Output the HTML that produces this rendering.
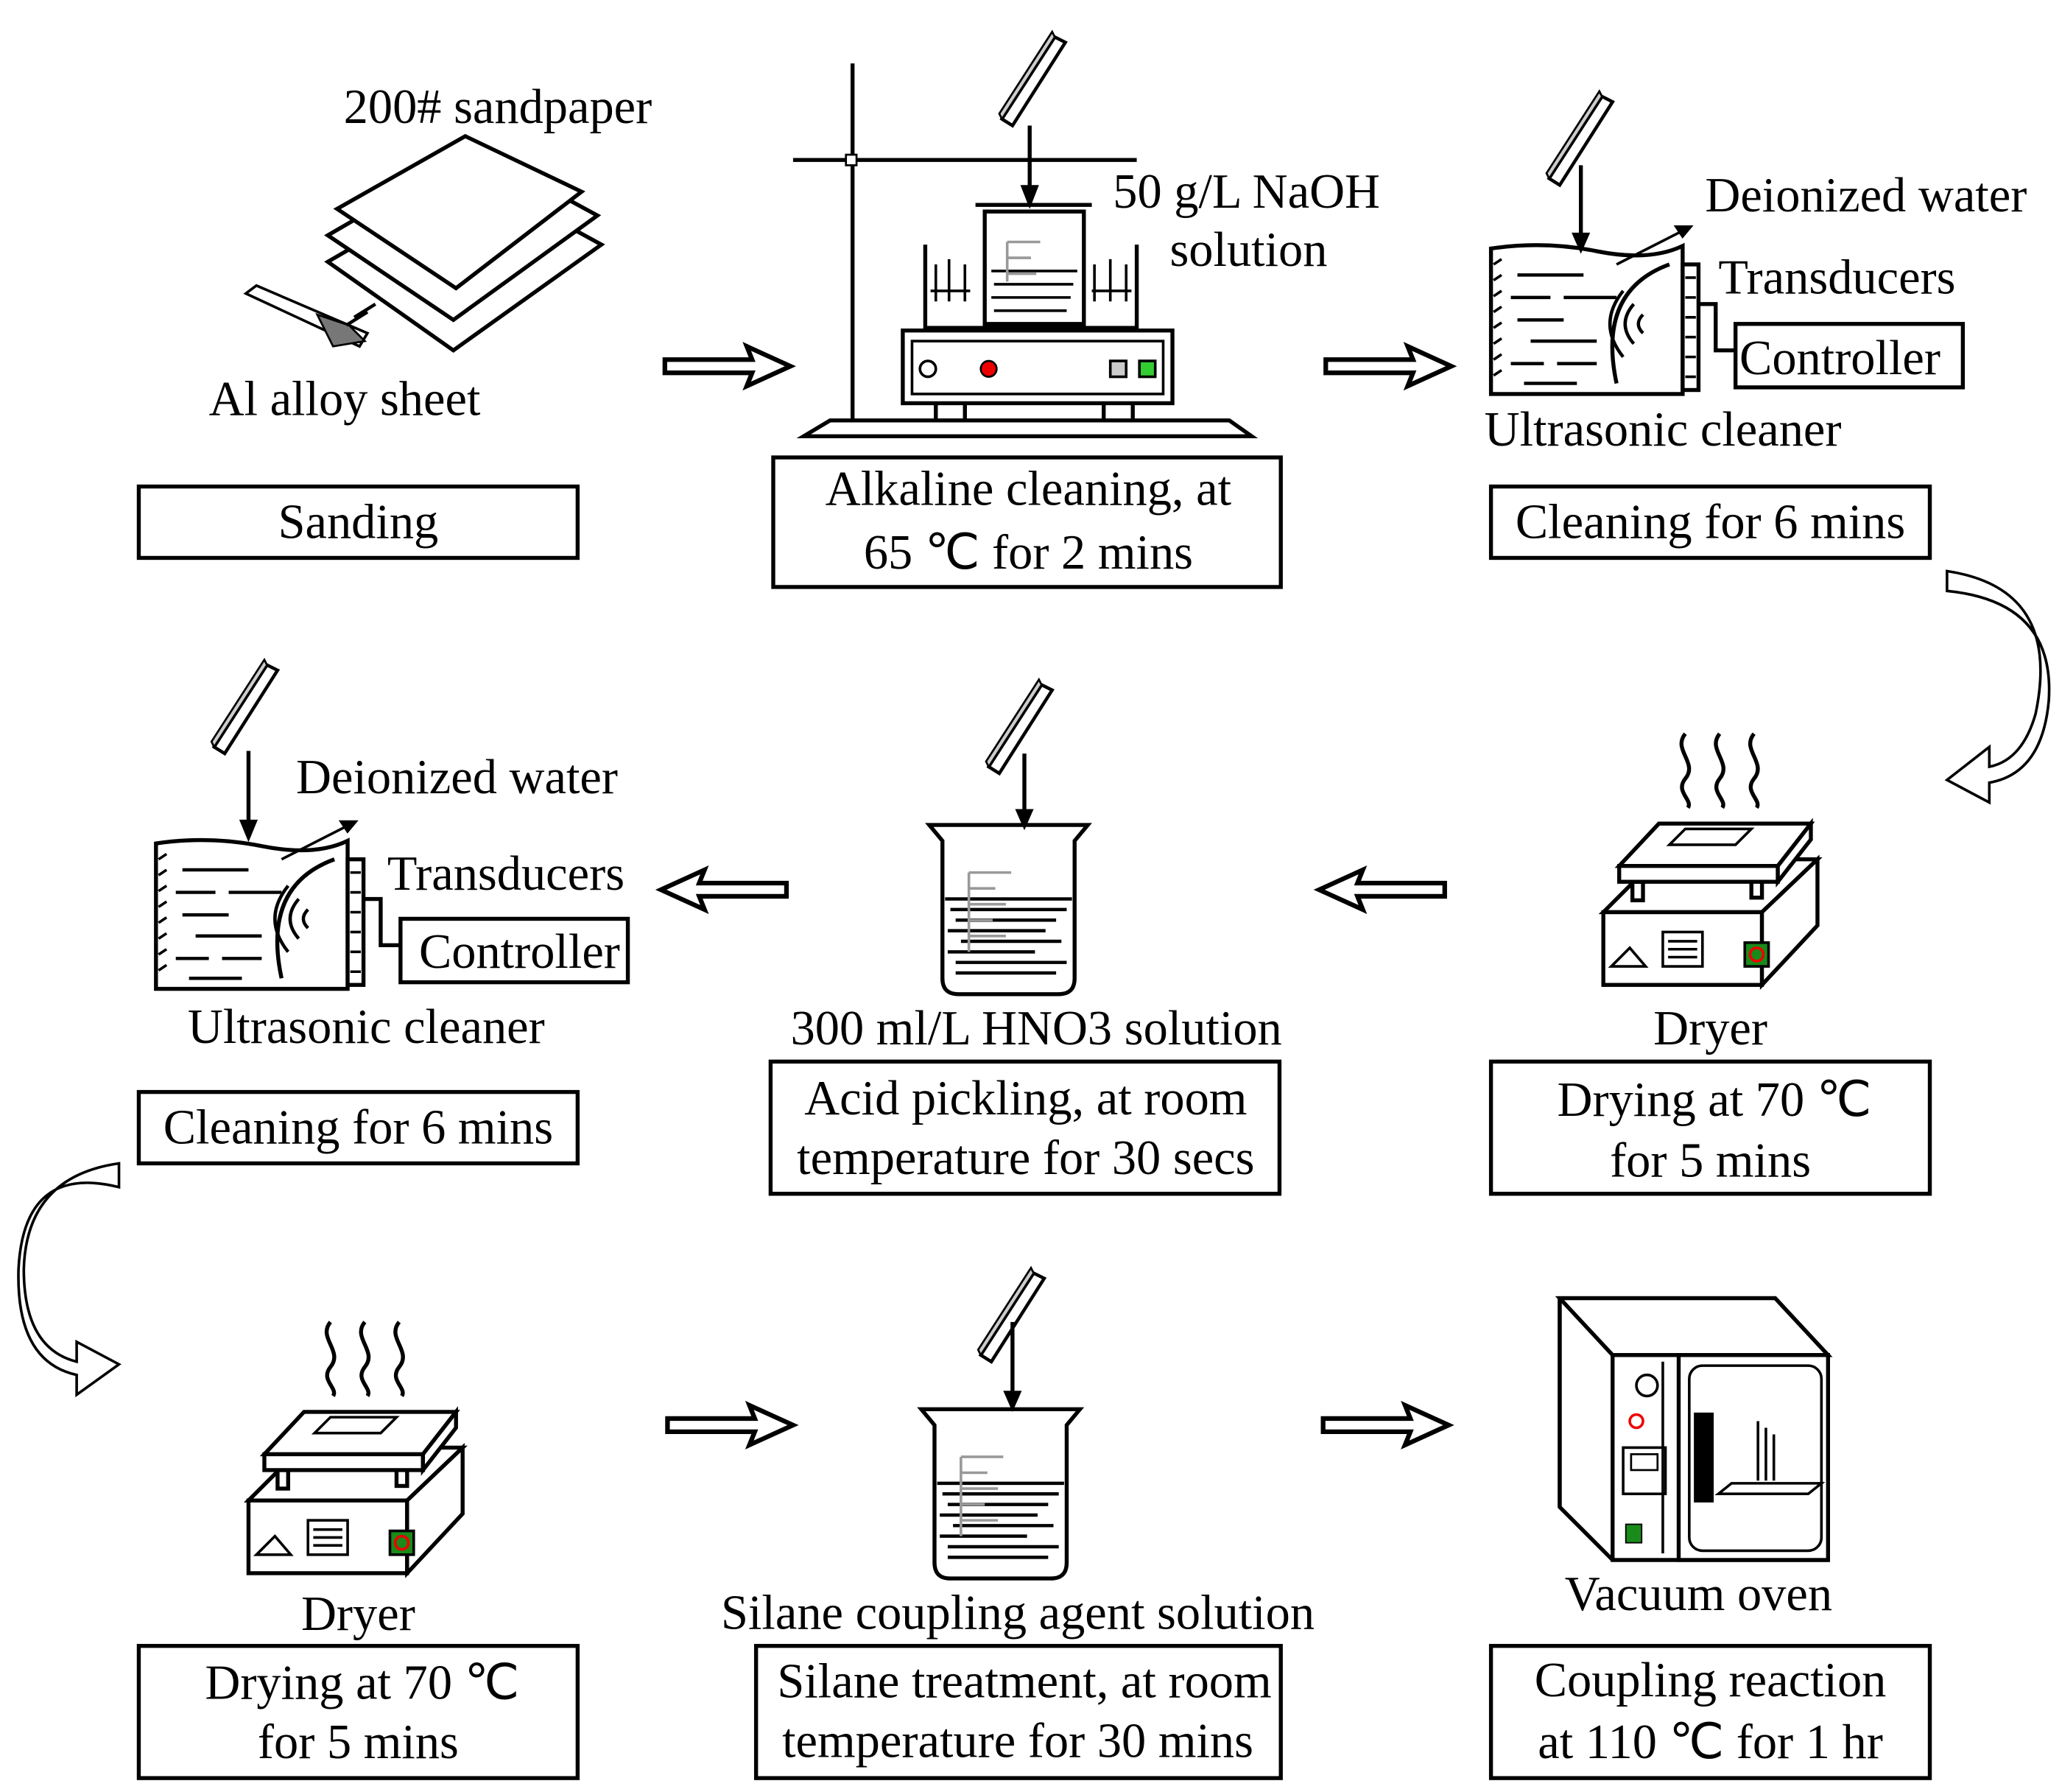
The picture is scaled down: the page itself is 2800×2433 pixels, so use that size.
<!DOCTYPE html>
<html><head><meta charset="utf-8"><style>html,body{margin:0;padding:0;background:#fff}svg{display:block}</style></head><body>
<svg width="2800" height="2433" viewBox="0 0 1560 1355.5" xmlns="http://www.w3.org/2000/svg" font-family="Liberation Serif, serif" font-size="37">
<defs>
<polygon id="har" points="0,-5 66,-5 62,-15 95,0 62,15 66,5 0,5" fill="#fff" stroke="#000" stroke-width="3.5" stroke-linejoin="miter"/>
<g id="sheet">
 <polygon points="0,50 40,-12 48,-8 8,55" fill="#fff" stroke="#000" stroke-width="2.5"/>
 <polygon points="0,50 40,-12 38,-16 -2,46" fill="#ccc" stroke="#000" stroke-width="1.5"/>
</g>
<g id="dryer" fill="#fff" stroke="#000" stroke-width="3">
 <path d="M62,0 c-10,12 10,22 0,34 c-8,10 6,16 2,22 M88,0 c-10,12 10,22 0,34 c-8,10 6,16 2,22 M114,0 c-10,12 10,22 0,34 c-8,10 6,16 2,22" fill="none"/>
 <polygon points="0,135 40,95 162,95 120,135"/>
 <rect x="0" y="135" width="120" height="55"/>
 <polygon points="120,135 162,95 162,145 120,190"/>
 <rect x="22" y="112" width="8" height="14"/><rect x="112" y="110" width="8" height="14"/>
 <polygon points="12,100 42,68 157,68 132,100"/>
 <polygon points="12,100 132,100 132,112 12,112"/>
 <polygon points="132,100 157,68 157,80 132,112"/>
 <polygon points="50,84 62,72 112,72 100,84" stroke-width="2"/>
 <polygon points="6,176 20,162 32,176" stroke-width="2"/>
 <rect x="45" y="150" width="30" height="26" stroke-width="2"/>
 <path d="M49,157h22M49,163h22M49,169h22" stroke-width="2"/>
 <rect x="107" y="158" width="18" height="18" fill="#1a8a1a" stroke-width="2"/>
 <circle cx="116" cy="167" r="5" fill="none" stroke="#e00" stroke-width="2"/>
</g>
<g id="beaker" fill="none" stroke="#000" stroke-width="3">
 <path d="M0,2 L120,2 L110,14 L110,118 Q110,130 98,130 L22,130 Q10,130 10,118 L10,14 Z" fill="#fff"/>
 <path d="M12,58H108M16,66H104M20,74H96M14,82H88M24,90H100M14,98H80M20,106H104M20,114H96" stroke-width="2.5"/>
 <path d="M30,38v60M30,38h32M30,50h20M30,62h28M30,74h18M30,86h28" stroke="#999" stroke-width="2"/>
</g>
<g id="ultra" fill="none" stroke="#000" stroke-width="3">
 <path d="M0,8 Q40,2 80,10 T145,6 L145,118 L0,118 Z" fill="#fff"/>
 <path d="M2,20l6,-4M2,32l6,-4M2,44l6,-4M2,56l6,-4M2,68l6,-4M2,80l6,-4M2,92l6,-4M2,104l6,-4" stroke-width="2"/>
 <path d="M20,28h50M15,45h30M55,45h40M20,62h35M30,78h50M15,95h25M50,95h30M25,110h40" stroke-width="2.5"/>
 <path d="M135,20 Q80,40 95,110" stroke-width="3"/>
 <path d="M100,40 Q80,65 100,90M108,50 Q95,65 108,80M115,58 Q108,65 115,72" stroke-width="2.5"/>
 <path d="M95,20 L150,-8" stroke-width="2"/><polygon points="150,-8 141,-8 145,-2" fill="#000"/>
 <rect x="145" y="20" width="12" height="95" fill="#fff"/>
 <path d="M147,30h8M147,45h8M147,60h8M147,75h8M147,90h8M147,105h8" stroke-width="2"/>
 <path d="M157,50 H170 V85 H185"/>
 <rect x="185" y="65" width="172" height="48" fill="#fff"/>
</g>
</defs>

<g fill="#fff" stroke="#000" stroke-width="3">
 <polygon points="248,198 360,133 455,185 343,265"/>
 <polygon points="248,178 360,113 452,163 343,242"/>
 <polygon points="255,158 352,103 440,145 345,218"/>
 <polygon points="186,222 194,216 278,252 272,262" stroke-width="2"/>
 <polygon points="240,238 264,246 276,258 252,262" fill="#777" stroke-width="1.5"/>
 <path d="M268,240 l16,-10 M262,246 l16,-10" stroke-width="2.5"/>
</g>
<text x="260" y="93">200# sandpaper</text>
<text x="158" y="314">Al alloy sheet</text>
<rect x="105" y="368" width="332" height="54" fill="none" stroke="#000" stroke-width="3"/>
<text x="271" y="407" text-anchor="middle">Sanding</text>

<use href="#har" x="503" y="277"/>

<g fill="#fff" stroke="#000" stroke-width="3">
 <path d="M645,48V318M600,121H860" stroke-width="3"/>
 <rect x="640" y="117" width="8" height="8" stroke-width="1.5"/>
 <polygon points="608,330 628,318 930,318 947,330"/>
 <rect x="708" y="300" width="22" height="18"/><rect x="835" y="300" width="22" height="18"/>
 <path d="M700,185 V248 H860 V185" fill="none"/>
 <path d="M745,160 H820 V245 H745 Z" fill="#fff"/>
 <path d="M738,155 H826" />
 <path d="M750,205h65M752,215h60M750,225h60M752,235h55" stroke-width="2"/>
 <path d="M762,183v30M762,183h25M762,195h18M762,207h22" stroke="#999" stroke-width="2"/>
 <path d="M708,200v28M718,196v32M730,200v28M828,200v28M840,196v32M852,200v28M704,220h30M826,220h30" stroke-width="2"/>
 <rect x="683" y="250" width="204" height="55"/>
 <rect x="690" y="258" width="190" height="40" stroke-width="2"/>
 <circle cx="702" cy="279" r="6" stroke-width="2"/>
 <circle cx="748" cy="279" r="6" fill="#e00" stroke-width="1.5"/>
 <rect x="840" y="273" width="12" height="12" fill="#ccc" stroke-width="2"/>
 <rect x="862" y="273" width="12" height="12" fill="#3c3" stroke-width="2"/>
</g>
<use href="#sheet" x="758" y="40"/>
<path d="M779,95V145" stroke="#000" stroke-width="3"/><polygon points="772,140 786,140 779,158"/>
<text x="842" y="157">50 g/L NaOH</text>
<text x="885" y="201">solution</text>
<rect x="585" y="346" width="384" height="98" fill="none" stroke="#000" stroke-width="3"/>
<text x="778" y="382" text-anchor="middle">Alkaline cleaning, at</text>
<text x="778" y="430" text-anchor="middle">65 ℃ for 2 mins</text>

<use href="#har" x="1003" y="277"/>

<use href="#ultra" x="1128" y="180"/>
<use href="#sheet" x="1172" y="85"/>
<path d="M1196,125V180" stroke="#000" stroke-width="3"/><polygon points="1189,176 1203,176 1196,192"/>
<text x="1290" y="160">Deionized water</text>
<text x="1300" y="222">Transducers</text>
<text x="1316" y="283">Controller</text>
<text x="1123" y="337">Ultrasonic cleaner</text>
<rect x="1128" y="368" width="332" height="54" fill="none" stroke="#000" stroke-width="3"/>
<text x="1294" y="407" text-anchor="middle">Cleaning for 6 mins</text>

<path d="M1473,432 Q1560,445 1540,540 Q1530,575 1505,580 L1505,565 L1473,590 L1505,607 L1505,592 Q1545,585 1550,530 Q1555,455 1473,447 Z" fill="#fff" stroke="#000" stroke-width="2"/>

<use href="#dryer" x="1213" y="555"/>
<text x="1294" y="790" text-anchor="middle">Dryer</text>
<rect x="1128" y="803" width="332" height="100" fill="none" stroke="#000" stroke-width="3"/>
<text x="1297" y="844" text-anchor="middle">Drying at 70 ℃</text>
<text x="1294" y="890" text-anchor="middle">for 5 mins</text>

<use href="#har" transform="translate(1093,673) scale(-1,1)"/>

<use href="#beaker" x="703" y="622"/>
<use href="#sheet" x="748" y="530"/>
<path d="M775,570V615" stroke="#000" stroke-width="3"/><polygon points="768,612 782,612 775,628"/>
<text x="784" y="790" text-anchor="middle">300 ml/L HNO3 solution</text>
<rect x="583" y="803" width="385" height="100" fill="none" stroke="#000" stroke-width="3"/>
<text x="776" y="843" text-anchor="middle">Acid pickling, at room</text>
<text x="776" y="888" text-anchor="middle">temperature for 30 secs</text>

<use href="#har" transform="translate(595,673) scale(-1,1)"/>

<use href="#ultra" x="118" y="630"/>
<use href="#sheet" x="162" y="515"/>
<path d="M188,568V625" stroke="#000" stroke-width="3"/><polygon points="181,620 195,620 188,637"/>
<text x="224" y="600">Deionized  water</text>
<text x="293" y="673">Transducers</text>
<text x="317" y="732">Controller</text>
<text x="142" y="789">Ultrasonic cleaner</text>
<rect x="105" y="826" width="332" height="54" fill="none" stroke="#000" stroke-width="3"/>
<text x="271" y="865" text-anchor="middle">Cleaning for 6 mins</text>

<path d="M90,880 Q20,890 18,960 Q18,1020 58,1030 L58,1015 L90,1032 L58,1055 L58,1040 Q12,1030 14,960 Q18,880 90,898 Z" fill="#fff" stroke="#000" stroke-width="2"/>

<use href="#dryer" x="188" y="1000"/>
<text x="271" y="1233" text-anchor="middle">Dryer</text>
<rect x="105" y="1245" width="332" height="100" fill="none" stroke="#000" stroke-width="3"/>
<text x="274" y="1285" text-anchor="middle">Drying at 70 ℃</text>
<text x="271" y="1330" text-anchor="middle">for 5 mins</text>

<use href="#har" x="505" y="1078"/>

<use href="#beaker" x="697" y="1064"/>
<use href="#sheet" x="742" y="975"/>
<path d="M766,1000V1055" stroke="#000" stroke-width="3"/><polygon points="759,1052 773,1052 766,1068"/>
<text x="770" y="1232" text-anchor="middle">Silane coupling agent solution</text>
<rect x="572" y="1245" width="397" height="100" fill="none" stroke="#000" stroke-width="3"/>
<text x="775" y="1284" text-anchor="middle">Silane treatment, at room</text>
<text x="770" y="1329" text-anchor="middle">temperature for 30 mins</text>

<use href="#har" x="1001" y="1078"/>

<g fill="#fff" stroke="#000" stroke-width="3">
 <polygon points="1180,982 1343,982 1383,1025 1383,1180 1220,1180 1180,1140"/>
 <polygon points="1180,982 1343,982 1383,1025 1220,1025" />
 <rect x="1220" y="1025" width="163" height="155"/>
 <path d="M1180,982V1140" fill="none"/>
 <rect x="1270" y="1025" width="113" height="155"/>
 <rect x="1278" y="1033" width="100" height="140" rx="10" stroke-width="2"/>
 <circle cx="1246" cy="1048" r="8" stroke-width="2"/>
 <circle cx="1238" cy="1075" r="5" fill="none" stroke="#e00" stroke-width="2"/>
 <rect x="1228" y="1095" width="32" height="35" stroke-width="2"/>
 <rect x="1234" y="1100" width="20" height="12" stroke-width="1.5"/>
 <rect x="1230" y="1153" width="12" height="14" fill="#1a8a1a" stroke-width="1"/>
 <rect x="1283" y="1070" width="12" height="65" fill="#000"/>
 <polygon points="1300,1130 1310,1122 1378,1122 1368,1130" stroke-width="2"/>
 <path d="M1330,1075v45M1336,1080v40M1342,1085v35" stroke-width="2"/>
 <path d="M1258,1030V1175" stroke-width="2"/>
</g>
<text x="1285" y="1218" text-anchor="middle">Vacuum oven</text>
<rect x="1128" y="1245" width="332" height="100" fill="none" stroke="#000" stroke-width="3"/>
<text x="1294" y="1283" text-anchor="middle">Coupling  reaction</text>
<text x="1294" y="1330" text-anchor="middle">at 110 ℃ for 1 hr</text>
</svg>
</body></html>
